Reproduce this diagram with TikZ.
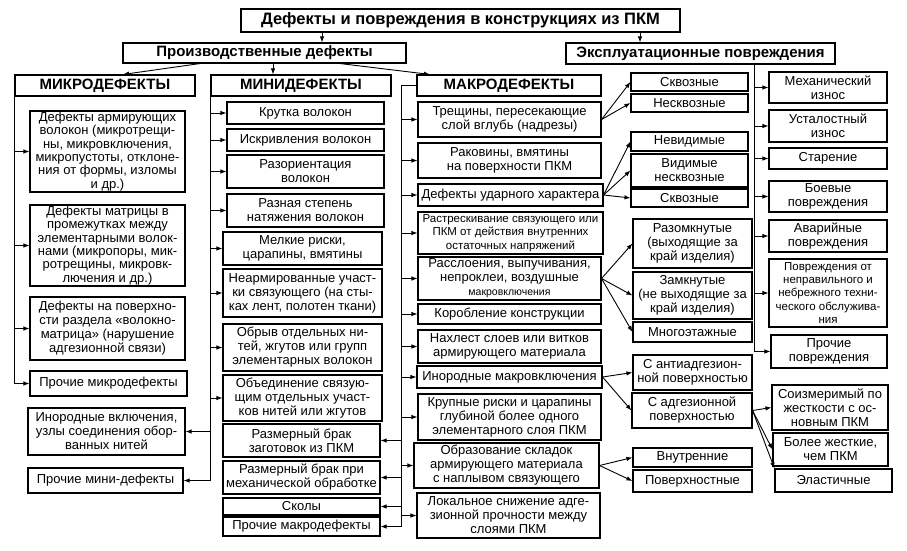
\documentclass[tikz,border=0pt]{standalone}
\usepackage{fontspec}
\setmainfont{Liberation Sans}
\usetikzlibrary{arrows.meta}
\tikzset{
  box/.style={draw, line width=1.1pt, inner sep=0pt, align=center,
    font=\fontsize{13}{14}\selectfont},
  head/.style={box, font=\bfseries\fontsize{15}{17}\selectfont},
  bx/.style n args={4}{minimum width={(#3-#1)*1pt}, minimum height={(#4-#2)*1pt},
    at={({(#1+#3)/2},{(#2+#4)/2})}},
  arr/.style={-{Latex[length=6pt,width=4.5pt]}, line width=0.9pt},
  tight/.style={font=\fontsize{13}{13.3}\selectfont},
  small/.style={font=\fontsize{11.5}{13.3}\selectfont}
}

\begin{document}
\begin{tikzpicture}[x=1pt,y=-1pt]
  \useasboundingbox (0,0) rectangle (907,551);

  \node[head, font=\bfseries\fontsize{16.5}{18}\selectfont, bx={241}{9}{680}{32}] (title) {Дефекты и повреждения в конструкциях из ПКМ};
  \node[head, bx={123}{43}{406}{63}] (proizv) {Производственные дефекты};
  \node[head, bx={566}{43}{835}{64}] (ekspl) {Эксплуатационные повреждения};

  \node[head, bx={15}{75}{195}{96}] (mikro) {МИКРОДЕФЕКТЫ};
  \node[head, bx={211}{75}{391}{96}] (mini) {МИНИДЕФЕКТЫ};
  \node[head, bx={417}{75}{601}{96}] (makro) {МАКРОДЕФЕКТЫ};

  \node[box, tight, bx={30}{111}{185}{192}] (md1) {Дефекты армирующих\\волокон (микротрещи-\\ны, микровключения,\\микропустоты, отклоне-\\ния от формы, изломы\\и др.)};
  \node[box, tight, bx={30}{205}{185}{286}] (md2) {Дефекты матрицы в\\промежутках между\\элементарными волок-\\нами (микропоры, мик-\\ротрещины, микровк-\\лючения и др.)};
  \node[box, bx={30}{297}{185}{360}] (md3) {Дефекты на поверхно-\\сти раздела «волокно-\\матрица» (нарушение\\адгезионной связи)};
  \node[box, bx={30}{371}{187}{396}] (md4) {Прочие микродефекты};

  \node[box, bx={28}{408}{185}{455}] (inor) {Инородные включения,\\узлы соединения обор-\\ванных нитей};
  \node[box, bx={28}{468}{183}{493}] (prm) {Прочие мини-дефекты};

  \node[box, bx={227}{102}{384}{124}] (n1) {Крутка волокон};
  \node[box, bx={227}{129}{384}{151}] (n2) {Искривления волокон};
  \node[box, bx={227}{155}{384}{188}] (n3) {Разориентация\\волокон};
  \node[box, bx={227}{194}{384}{227}] (n4) {Разная степень\\натяжения волокон};
  \node[box, bx={223}{232}{382}{265}] (n5) {Мелкие риски,\\царапины, вмятины};
  \node[box, bx={223}{269}{382}{317}] (n6) {Неармированные участ-\\ки связующего (на сты-\\ках лент, полотен ткани)};
  \node[box, bx={223}{324}{382}{371}] (n7) {Обрыв отдельных ни-\\тей, жгутов или групп\\элементарных волокон};
  \node[box, bx={223}{375}{382}{421}] (n8) {Объединение связую-\\щим отдельных участ-\\ков нитей или жгутов};
  \node[box, bx={223}{424}{380}{457}] (n9) {Размерный брак\\заготовок из ПКМ};
  \node[box, bx={223}{461}{380}{494}] (n10) {Размерный брак при\\механической обработке};
  \node[box, bx={223}{498}{380}{515}] (n11) {Сколы};
  \node[box, bx={223}{517}{380}{536}] (n12) {Прочие макродефекты};

  \node[box, bx={418}{102}{601}{137}] (m1) {Трещины, пересекающие\\слой вглубь (надрезы)};
  \node[box, bx={418}{143}{601}{178}] (m2) {Раковины, вмятины\\на поверхности ПКМ};
  \node[box, bx={418}{184}{603}{206}] (m3) {Дефекты ударного характера};
  \node[box, small, bx={418}{212}{603}{254}] (m4) {Растрескивание связующего или\\ПКМ от действия внутренних\\остаточных напряжений};
  \node[box, bx={418}{257}{601}{300}] (m5) {Расслоения, выпучивания,\\непроклеи, воздушные\\{\fontsize{10.5}{12}\selectfont макровключения}};
  \node[box, bx={418}{304}{601}{324}] (m6) {Коробление конструкции};
  \node[box, bx={418}{330}{601}{363}] (m7) {Нахлест слоев или витков\\армирующего материала};
  \node[box, bx={417}{366}{602}{388}] (m8) {Инородные макровключения};
  \node[box, bx={418}{394}{601}{440}] (m9) {Крупные риски и царапины\\глубиной более одного\\элементарного слоя ПКМ};
  \node[box, bx={414}{443}{599}{488}] (m10) {Образование складок\\армирующего материала\\с наплывом связующего};
  \node[box, bx={417}{493}{600}{538}] (m11) {Локальное снижение адге-\\зионной прочности между\\слоями ПКМ};

  \node[box, bx={631}{73}{748}{91}] (s1) {Сквозные};
  \node[box, bx={631}{94}{748}{112}] (s2) {Несквозные};
  \node[box, bx={631}{132}{748}{151}] (s3) {Невидимые};
  \node[box, bx={631}{154}{748}{187}] (s4) {Видимые\\несквозные};
  \node[box, bx={631}{189}{748}{207}] (s5) {Сквозные};
  \node[box, bx={633}{219}{752}{268}] (s6) {Разомкнутые\\(выходящие за\\край изделия)};
  \node[box, bx={633}{272}{752}{319}] (s7) {Замкнутые\\(не выходящие за\\край изделия)};
  \node[box, bx={633}{322}{752}{342}] (s8) {Многоэтажные};
  \node[box, bx={633}{355}{752}{390}] (s9) {С антиадгезион-\\ной поверхностью};
  \node[box, bx={632}{393}{752}{428}] (s10) {С адгезионной\\поверхностью};
  \node[box, bx={633}{448}{752}{467}] (s11) {Внутренние};
  \node[box, bx={633}{470}{752}{492}] (s12) {Поверхностные};

  \node[box, bx={769}{72}{887}{103}] (o1) {Механический\\износ};
  \node[box, bx={769}{110}{887}{142}] (o2) {Усталостный\\износ};
  \node[box, bx={769}{148}{887}{169}] (o3) {Старение};
  \node[box, bx={769}{181}{887}{212}] (o4) {Боевые\\повреждения};
  \node[box, bx={769}{220}{887}{252}] (o5) {Аварийные\\повреждения};
  \node[box, small, bx={769}{259}{887}{327}] (o6) {Повреждения от\\неправильного и\\небрежного техни-\\ческого обслужива-\\ния};
  \node[box, bx={771}{335}{887}{368}] (o7) {Прочие\\повреждения};

  \node[box, bx={772}{385}{888}{430}] (t1) {Соизмеримый по\\жесткости с ос-\\новным ПКМ};
  \node[box, bx={773}{433}{888}{466}] (t2) {Более жесткие,\\чем ПКМ};
  \node[box, bx={775}{469}{892}{492}] (t3) {Эластичные};

  % top level
  \draw[arr] (title.south -| 322,0) -- (proizv.north -| 322,0);
  \draw[arr] (title.south -| 640,0) -- (ekspl.north -| 640,0);
  \draw[arr] (proizv.south -| 200,0) -- (mikro.north -| 123,0);
  \draw[arr] (proizv.south -| 273,0) -- (mini.north -| 273,0);
  \draw[arr] (proizv.south -| 340,0) -- (makro.north -| 430,0);

  % trunks
  \foreach \n in {md1,md2,md3,md4}
    \draw[arr] (mikro.south west) |- (\n.west);
  \foreach \n in {n1,n2,n3,n4,n5,n6,n7,n8}
    \draw[arr] (mini.south west) |- (\n.west);
  \foreach \n in {inor,prm}
    \draw[arr] (mini.south west) |- (\n.east);

  \draw[line width=0.9pt] (makro.west) -- ++(-15,0) coordinate (mk);
  \foreach \n in {m1,m2,m3,m4,m5,m6,m7,m8,m9,m10,m11}
    \draw[arr] (mk) |- (\n.west);
  \foreach \n in {n9,n10,n11,n12}
    \draw[arr] (mk) |- (\n.east);

  \coordinate (ek) at (ekspl.south -| 754,0);
  \foreach \n in {o1,o2,o3,o4,o5,o6,o7}
    \draw[arr] (ek) |- (\n.west);

  % branches
  \foreach \n in {s1,s2}
    \draw[arr] (m1.east) -- (\n.west);
  \foreach \n in {s3,s4,s5}
    \draw[arr] (m3.east) -- (\n.west);
  \foreach \n in {s6,s7,s8}
    \draw[arr] (m5.east) -- (\n.west);
  \foreach \n in {s9,s10}
    \draw[arr] (m8.east) -- (\n.west);
  \foreach \n in {s11,s12}
    \draw[arr] (m10.east) -- (\n.west);
  \draw[arr] (s10.east) -- (t1.west);
  \draw[arr] (s10.east) -- (t2.west);
  \draw[arr] (s10.east) -- (t3.north west);
\end{tikzpicture}
\end{document}
